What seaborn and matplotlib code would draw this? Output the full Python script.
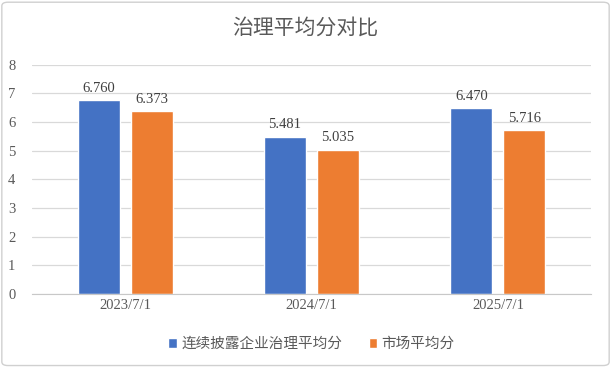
import matplotlib
matplotlib.use("Agg")
from matplotlib import pyplot as plt
from matplotlib.patches import FancyBboxPatch
import pandas as pd
import seaborn as sb

dates = ['2023/7/1', '2024/7/1', '2025/7/1']
series_names = ['连续披露企业治理平均分', '市场平均分']
disclosed = [6.760, 5.481, 6.470]
market = [6.373, 5.035, 5.716]

df = pd.DataFrame({
    'date': dates * 2,
    'series': [series_names[0]] * 3 + [series_names[1]] * 3,
    'score': disclosed + market,
})

sb.set_style('white')
fam = ['Liberation Serif', 'Noto Sans CJK SC']
plt.rcParams['font.family'] = fam

fig = plt.figure(figsize=(6.11, 3.67), dpi=100)
ax = fig.add_axes([0.0524, 0.199, 0.915, 0.625])

sb.barplot(data=df, x='date', y='score', hue='series',
           palette=['#4472C4', '#ED7D31'], width=0.57, gap=0.21,
           saturation=1, ax=ax, legend=True)

for cont in ax.containers:
    ax.bar_label(cont, fmt='%.3f', padding=4, fontsize=10.5, color='#404040')

ax.set_ylim(0, 8)
ax.set_xlim(-0.5, len(dates) - 0.5)
ax.set_yticks(range(0, 9))
ax.set_xticks([i - 0.5 for i in range(len(dates) + 1)], minor=True)
ax.yaxis.grid(True, color='#D9D9D9', linewidth=0.9)
ax.set_axisbelow(True)
for s in ['top', 'right', 'left']:
    ax.spines[s].set_visible(False)
ax.spines['bottom'].set_color('#C8C8C8')
ax.tick_params(axis='both', length=0, labelsize=10.5, labelcolor='#595959')
ax.tick_params(axis='x', which='minor', length=4, color='#C8C8C8', width=0.9)
ax.tick_params(axis='y', pad=12)
ax.set_xlabel('')
ax.set_ylabel('')

leg = ax.legend(loc='center', bbox_to_anchor=(0.5, -0.22), ncol=2, frameon=False,
                fontsize=10.5, handlelength=0.6, handleheight=0.6, columnspacing=1.8,
                handletextpad=0.3)
for t in leg.get_texts():
    t.set_color('#595959')

fig.text(0.5, 0.925, '治理平均分对比', ha='center', va='center', fontsize=15,
         color='#595959', family=['Noto Sans CJK SC', 'DejaVu Sans'])

border = FancyBboxPatch((0.003, 0.004), 0.994, 0.99, boxstyle='round,pad=0,rounding_size=0.01',
                        transform=fig.transFigure, fill=False, edgecolor='#D0D0D0', linewidth=1)
fig.patches.append(border)

fig.savefig('out.png', dpi=100)
